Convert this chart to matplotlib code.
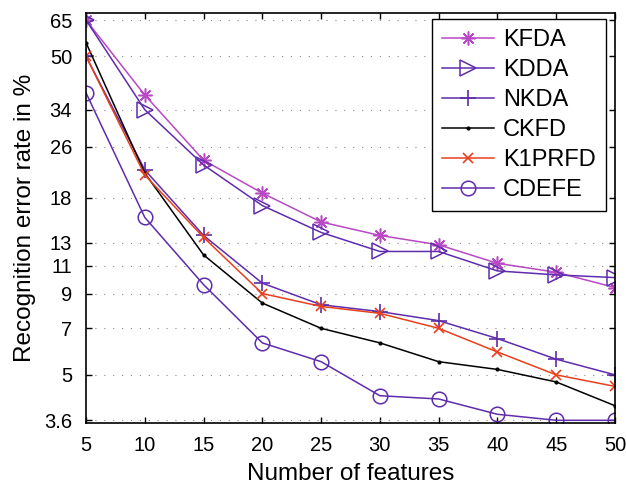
import numpy as np
import matplotlib.pyplot as plt
from matplotlib.ticker import FixedLocator, NullLocator, FixedFormatter

plt.rcParams['font.family'] = ['Liberation Sans', 'DejaVu Sans']

features = [5, 10, 15, 20, 25, 30, 35, 40, 45, 50]
kfda = [65, 37.8, 23.6, 18.6, 15.1, 13.7, 12.8, 11.2, 10.5, 9.4]
kdda = [65, 34, 22.8, 17.0, 14.0, 12.2, 12.2, 10.6, 10.3, 10.1]
nkda = [50, 22.0, 13.7, 9.7, 8.3, 7.9, 7.4, 6.5, 5.6, 5.0]
ckfd = [55.2, 21.5, 11.9, 8.4, 7.0, 6.3, 5.5, 5.2, 4.75, 4.0]
k1prfd = [50, 21.2, 13.5, 9.0, 8.2, 7.8, 7.0, 5.9, 5.0, 4.6]
cdefe = [38.4, 15.6, 9.6, 6.3, 5.5, 4.3, 4.2, 3.76, 3.6, 3.6]

yticks = [3.6, 5, 7, 9, 11, 13, 18, 26, 34, 50, 65]

magenta = '#b848c4'
purple = '#5e2cac'
red = '#e8401c'

fig = plt.figure(figsize=(6.26, 4.9), dpi=100)
ax = fig.add_axes([0.1374, 0.1367, 0.845, 0.8368])

lw = 1.1
ax.plot(features, kfda, color=magenta, marker=(8, 2, 0), ms=10, mew=1.1, lw=lw, label='KFDA')
ax.plot(features, kdda, color=purple, marker='>', ms=11, mfc='none', mew=1.1, lw=lw, label='KDDA')
ax.plot(features, nkda, color=purple, marker='+', ms=11, mew=1.2, lw=lw, label='NKDA')
ax.plot(features, ckfd, color='black', marker='.', ms=4, lw=lw, label='CKFD')
ax.plot(features, k1prfd, color=red, marker='x', ms=7.5, mew=1.2, lw=lw, label='K1PRFD')
ax.plot(features, cdefe, color=purple, marker='o', ms=10.5, mfc='none', mew=1.1, lw=lw, label='CDEFE')

ax.set_yscale('log')
ax.set_ylim(3.53, 68.4)
ax.set_xlim(5, 50)
ax.yaxis.set_major_locator(FixedLocator(yticks))
ax.yaxis.set_major_formatter(FixedFormatter([str(t) for t in yticks]))
ax.yaxis.set_minor_locator(NullLocator())
ax.set_xticks(features)

ax.grid(axis='y', color='#888888', linestyle=(0, (1, 7)), lw=0.8)
ax.tick_params(direction='in', top=True, right=True, labelsize=14.5, length=4, width=1)
ax.tick_params(axis='x', pad=9)
ax.tick_params(axis='y', pad=10)
for s in ax.spines.values():
    s.set_linewidth(1.2)

ax.set_xlabel('Number of features', fontsize=17.5, labelpad=6)
ax.set_ylabel('Recognition error rate in %', fontsize=17.5, labelpad=6)

leg = ax.legend(loc='upper right', fontsize=17, fancybox=False, framealpha=1,
                edgecolor='black', borderpad=0.42, labelspacing=0.34,
                handlelength=2.2, handletextpad=0.4, borderaxespad=0,
                bbox_to_anchor=(0.9824, 0.9846))
leg.get_frame().set_linewidth(1.0)

fig.savefig('out.png', dpi=100)
